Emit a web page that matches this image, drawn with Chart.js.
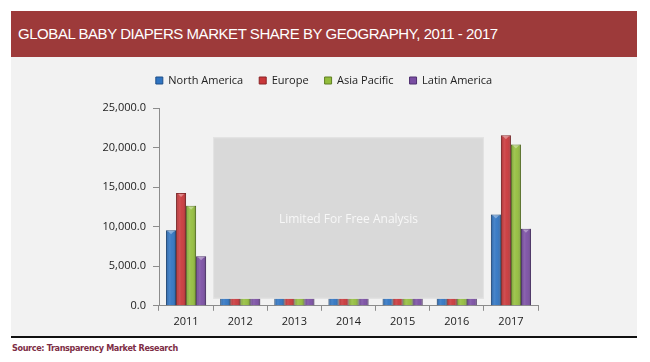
<!DOCTYPE html>
<html>
<head>
<meta charset="utf-8">
<script src="https://cdn.jsdelivr.net/npm/chart.js@4"></script>
<style>
  body { margin: 0; background: #fff; width: 650px; height: 362px; position: relative; overflow: hidden; }
  #title { position: absolute; left: 11px; top: 11px; width: 626px; height: 46px; background: #9d3a3a;
    color: #fff; font: 15px "Liberation Sans", Arial, sans-serif; letter-spacing: -0.45px; line-height: 46px;
    box-sizing: border-box; padding-left: 7px; }
  #panel { position: absolute; left: 11px; top: 57px; width: 626px; height: 279px; background: #f2f2f2; }
  #rule { position: absolute; left: 11px; top: 336px; width: 626px; height: 2px; background: #111; }
  #source { position: absolute; left: 12px; top: 343px; color: #7d2d45; font: bold 9px "DejaVu Sans Condensed", "DejaVu Sans", sans-serif; letter-spacing: -0.35px; }
</style>
</head>
<body>
<div id="title">GLOBAL BABY DIAPERS MARKET SHARE BY GEOGRAPHY, 2011 - 2017</div>
<div id="panel"><canvas id="myChart" width="626" height="279"></canvas></div>
<div id="rule"></div>
<div id="source">Source: Transparency Market Research</div>
<script>
const years = ['2011', '2012', '2013', '2014', '2015', '2016', '2017'];
// 2012-2016 are hidden behind the "free analysis" box in the picture
const northAmerica = [9550, 9800, 10150, 10400, 10800, 11150, 11550];
const europe = [14250, 15100, 16000, 17300, 18600, 20000, 21550];
const asiaPacific = [12650, 13500, 14600, 15800, 17200, 18700, 20400];
const latinAmerica = [6250, 6700, 7200, 7800, 8400, 9000, 9750];
const yTicks = [0, 5000, 10000, 15000, 20000, 25000];

const ctx = document.getElementById('myChart');
const font = { family: '"Open Sans", sans-serif', size: 11 };

// extra room under the legend
const legendGap = {
  id: 'legendGap',
  beforeInit(chart) {
    const fit = chart.legend.fit;
    chart.legend.fit = function () {
      fit.bind(chart.legend)();
      this.height += 12;
    };
  }
};

// soft cylinder shading on each bar
const shade = {
  id: 'shade',
  afterDatasetsDraw(chart) {
    const c = chart.ctx;
    chart.data.datasets.forEach((ds, i) => {
      chart.getDatasetMeta(i).data.forEach(bar => {
        const l = bar.x - bar.width / 2, r = bar.x + bar.width / 2;
        const g = c.createLinearGradient(l, 0, r, 0);
        g.addColorStop(0, 'rgba(0,0,0,0.18)');
        g.addColorStop(0.35, 'rgba(255,255,255,0.12)');
        g.addColorStop(0.6, 'rgba(255,255,255,0.05)');
        g.addColorStop(1, 'rgba(0,0,0,0.22)');
        c.save();
        c.fillStyle = g;
        c.fillRect(l, bar.y, r - l, bar.base - bar.y);
        // little cap on top
        c.fillStyle = 'rgba(255,255,255,0.35)';
        c.beginPath();
        c.moveTo(bar.x - 3, bar.y + 1);
        c.lineTo(bar.x + 3, bar.y + 1);
        c.lineTo(bar.x, bar.y + 4);
        c.fill();
        c.restore();
      });
    });
  }
};

// grey box covering 2012-2016
const limited = {
  id: 'limited',
  afterDatasetsDraw(chart) {
    const xs = chart.scales.x, ys = chart.scales.y, c = chart.ctx;
    const step = xs.getPixelForValue(2) - xs.getPixelForValue(1);
    const left = xs.getPixelForValue(1) - step / 2;
    const right = xs.getPixelForValue(5) + step / 2;
    const top = ys.getPixelForValue(21300);
    const bottom = ys.getPixelForValue(900);
    c.save();
    c.fillStyle = '#d9d9d9';
    c.fillRect(left, top, right - left, bottom - top);
    c.strokeStyle = '#e4e4e4';
    c.strokeRect(left + 0.5, top + 0.5, right - left - 1, bottom - top - 1);
    c.fillStyle = '#f7f7f7';
    c.font = '12px "Open Sans", sans-serif';
    c.textAlign = 'center';
    c.textBaseline = 'middle';
    c.fillText('Limited For Free Analysis', (left + right) / 2, (top + bottom) / 2 + 2);
    c.restore();
  }
};

new Chart(ctx, {
  type: 'bar',
  data: {
    labels: years,
    datasets: [
      { label: 'North America', data: northAmerica, backgroundColor: '#2f74c2', borderColor: '#1f4f88' },
      { label: 'Europe', data: europe, backgroundColor: '#c9373a', borderColor: '#8a2426' },
      { label: 'Asia Pacific', data: asiaPacific, backgroundColor: '#93bd3c', borderColor: '#5f7f22' },
      { label: 'Latin America', data: latinAmerica, backgroundColor: '#7a4ea3', borderColor: '#4f3070' }
    ]
  },
  plugins: [legendGap, shade, limited],
  options: {
    responsive: false,
    animation: false,
    devicePixelRatio: 1,
    datasets: { bar: { borderWidth: 1, categoryPercentage: 0.74, barPercentage: 1 } },
    layout: { padding: { left: 0, right: 0, top: 2, bottom: 4 } },
    plugins: {
      legend: {
        labels: { font: font, color: '#222', boxWidth: 7, boxHeight: 7, padding: 16 }
      },
      tooltip: { enabled: false }
    },
    scales: {
      x: {
        grid: { drawOnChartArea: false, tickLength: 5, color: '#8c8c8c' },
        border: { color: '#8c8c8c' },
        ticks: { font: font, color: '#222', padding: 4 }
      },
      y: {
        min: 0, max: 25000,
        afterBuildTicks: (s) => { s.ticks = yTicks.map(v => ({ value: v })); },
        afterFit: (s) => { s.width = 148; },
        grid: { drawOnChartArea: false, tickLength: 6, color: '#8c8c8c' },
        border: { color: '#8c8c8c' },
        ticks: {
          font: font, color: '#222', padding: 7,
          callback: (v) => v.toLocaleString('en-US', { minimumFractionDigits: 1, maximumFractionDigits: 1 })
        }
      },
      // empty right-hand spacer so the plot sits where it does in the picture
      y2: {
        position: 'right',
        grid: { display: false },
        border: { display: false },
        ticks: { display: false },
        afterFit: (s) => { s.width = 99; }
      }
    }
  }
});
</script>
</body>
</html>
